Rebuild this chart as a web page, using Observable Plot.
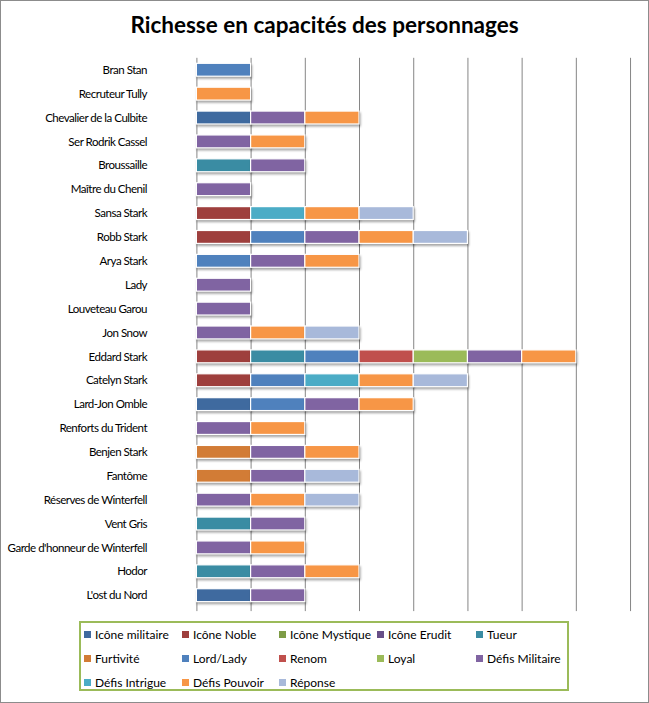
<!DOCTYPE html>
<html>
<head>
<meta charset="utf-8">
<script src="https://cdn.jsdelivr.net/npm/d3@7"></script>
<script src="https://cdn.jsdelivr.net/npm/@observablehq/plot@0.6"></script>
<style>
  html, body { margin: 0; padding: 0; background: #fff; }
  #frame { position: relative; width: 647px; height: 701px; border: 1px solid #8c8c8c; background: #fff; font-family: Lato, "Open Sans", sans-serif; overflow: hidden; }
  #title { position: absolute; left: 0; top: 10px; width: 647px; text-align: center; font-weight: bold; font-size: 22.5px; color: #000; }
  #chart { position: absolute; left: -1px; top: 0; }
  #legend { position: absolute; left: 78px; top: 620px; width: 486px; height: 66px; border: 2px solid #9BBB59; }
  .item { position: absolute; font-size: 12px; color: #000; white-space: nowrap; line-height: 14px; }
  .sw { display: inline-block; width: 7px; height: 7px; margin-right: 4px; vertical-align: 1px; }
  svg g[aria-label="bar"] rect { filter: drop-shadow(1px 2px 1.2px rgba(0,0,0,0.35)); }
  svg g[aria-label="y-axis tick label"] text { letter-spacing: -0.5px; }
</style>
</head>
<body>
<div id="frame">
  <div id="title">Richesse en capacités des personnages</div>
  <div id="chart"></div>
  <div id="legend"></div>
</div>
<script>
const characters = ["Bran Stan", "Recruteur Tully", "Chevalier de la Culbite", "Ser Rodrik Cassel", "Broussaille", "Maître du Chenil", "Sansa Stark", "Robb Stark", "Arya Stark", "Lady", "Louveteau Garou", "Jon Snow", "Eddard Stark", "Catelyn Stark", "Lard-Jon Omble", "Renforts du Trident", "Benjen Stark", "Fantôme", "Réserves de Winterfell", "Vent Gris", "Garde d'honneur de Winterfell", "Hodor", "L'ost du Nord"];

const seriesNames = ["Icône militaire", "Icône Noble", "Icône Mystique", "Icône Erudit", "Tueur", "Furtivité", "Lord/Lady", "Renom", "Loyal", "Défis Militaire", "Défis Intrigue", "Défis Pouvoir", "Réponse"];

const seriesColors = ["#3F6A9F", "#9E3F3D", "#7E9C46", "#674F88", "#3A8CA3", "#D27C36", "#4F81BD", "#C0504D", "#9BBB59", "#8064A2", "#4BACC6", "#F79646", "#A8B9DA"];

const iconeMilitaire = [0,0,1,0,0,0,0,0,0,0,0,0,0,0,1,0,0,0,0,0,0,0,1];
const iconeNoble     = [0,0,0,0,0,0,1,1,0,0,0,0,1,1,0,0,0,0,0,0,0,0,0];
const iconeMystique  = [0,0,0,0,0,0,0,0,0,0,0,0,0,0,0,0,0,0,0,0,0,0,0];
const iconeErudit    = [0,0,0,0,0,0,0,0,0,0,0,0,0,0,0,0,0,0,0,0,0,0,0];
const tueur          = [0,0,0,0,1,0,0,0,0,0,0,0,1,0,0,0,0,0,0,1,0,1,0];
const furtivite      = [0,0,0,0,0,0,0,0,0,0,0,0,0,0,0,0,1,1,0,0,0,0,0];
const lordLady       = [1,0,0,0,0,0,0,1,1,0,0,0,1,1,1,0,0,0,0,0,0,0,0];
const renom          = [0,0,0,0,0,0,0,0,0,0,0,0,1,0,0,0,0,0,0,0,0,0,0];
const loyal          = [0,0,0,0,0,0,0,0,0,0,0,0,1,0,0,0,0,0,0,0,0,0,0];
const defisMilitaire = [0,0,1,1,1,1,0,1,1,1,1,1,1,0,1,1,1,1,1,1,1,1,1];
const defisIntrigue  = [0,0,0,0,0,0,1,0,0,0,0,0,0,1,0,0,0,0,0,0,0,0,0];
const defisPouvoir   = [0,1,1,1,0,0,1,1,1,0,0,1,1,1,1,1,1,0,1,0,1,1,0];
const reponse        = [0,0,0,0,0,0,1,1,0,0,0,1,0,1,0,0,0,1,1,0,0,0,0];

const xTicks = [0,1,2,3,4,5,6,7,8];

const seriesValues = [iconeMilitaire, iconeNoble, iconeMystique, iconeErudit, tueur, furtivite, lordLady, renom, loyal, defisMilitaire, defisIntrigue, defisPouvoir, reponse];

const data = [];
seriesNames.forEach((s, si) => {
  seriesValues[si].forEach((v, ci) => {
    if (v > 0) data.push({character: characters[ci], series: s, value: v});
  });
});

const chart = Plot.plot({
  width: 650,
  height: 620,
  marginLeft: 197,
  marginRight: 18,
  marginTop: 57,
  marginBottom: 12,
  style: {fontFamily: "Lato, 'Open Sans', sans-serif", fontSize: "11.5px", color: "#000", background: "transparent"},
  x: {domain: [0, 8], axis: null},
  y: {domain: characters, paddingInner: 0.46, paddingOuter: 0.23, round: false, label: null},
  color: {domain: seriesNames, range: seriesColors},
  marks: [
    Plot.ruleX(xTicks, {x: d => d, stroke: "#868686", strokeWidth: 1, strokeOpacity: 1, insetBottom: -4}),
    Plot.barX(data, Plot.stackX({y: "character", x: "value", fill: "series", stroke: "white", strokeWidth: 1.2})),
    Plot.axisY({tickSize: 0, tickPadding: 50, label: null, fontSize: 11.6})
  ]
});
document.getElementById("chart").appendChild(chart);

const legend = document.getElementById("legend");
const colX = [3, 101, 198, 296, 395];
const rowY = [5, 29, 53];
seriesNames.forEach((s, i) => {
  const div = document.createElement("div");
  div.className = "item";
  div.style.left = colX[i % 5] + "px";
  div.style.top = rowY[Math.floor(i / 5)] + "px";
  div.innerHTML = `<span class="sw" style="background:${seriesColors[i]}"></span>${s}`;
  legend.appendChild(div);
});
</script>
</body>
</html>
